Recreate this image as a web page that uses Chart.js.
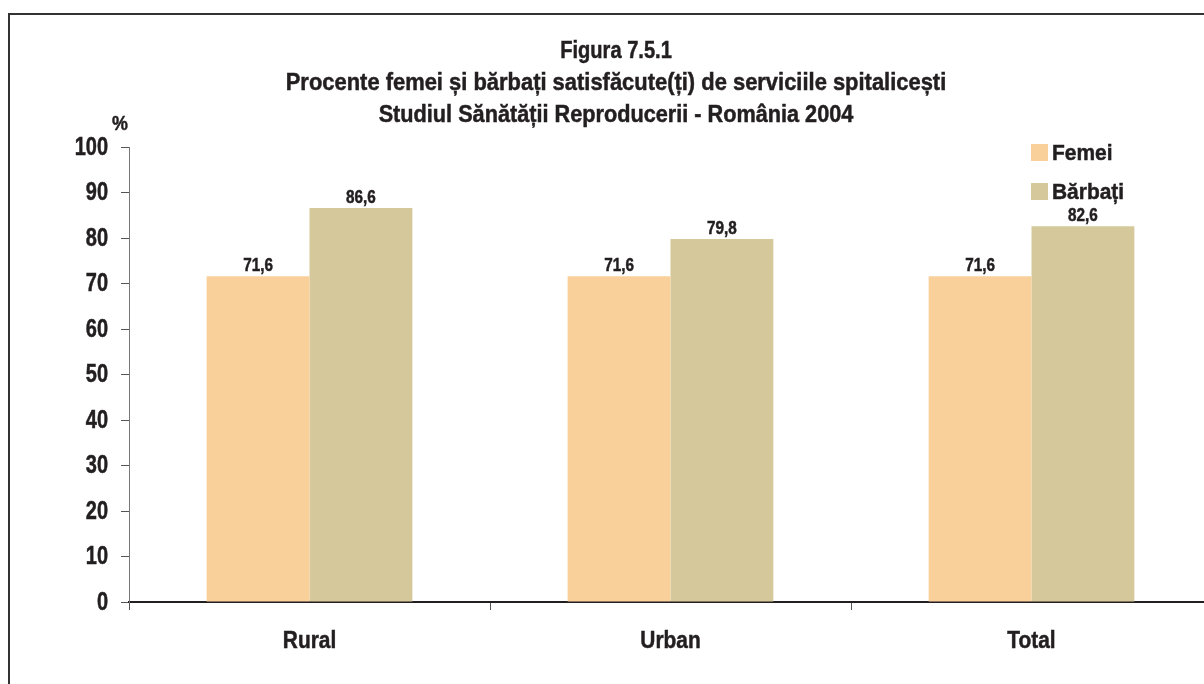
<!DOCTYPE html>
<html>
<head>
<meta charset="utf-8">
<script src="https://cdn.jsdelivr.net/npm/chart.js@4"></script>
<style>
  html, body { margin: 0; padding: 0; background: #fff; overflow: hidden; }
  #frame { position: absolute; left: 8px; top: 13px; width: 1300px; height: 800px;
           border-left: 2px solid #333; border-top: 2px solid #333; }
  #wrap { position: absolute; left: 0; top: 0; width: 1230px; height: 684px; }
</style>
</head>
<body>
<div id="frame"></div>
<div id="wrap"><canvas id="grafic"></canvas></div>
<script>
// date
const categorii = ['Rural', 'Urban', 'Total'];
const femei = [71.6, 71.6, 71.6];
const barbati = [86.6, 79.8, 82.6];
const etichetaY = [0, 10, 20, 30, 40, 50, 60, 70, 80, 90, 100];
const titlu = [
  'Figura 7.5.1',
  'Procente femei și bărbați satisfăcute(ți) de serviciile spitalicești',
  'Studiul Sănătății Reproducerii - România 2004'
];

const FONT = '"Liberation Sans", Arial, sans-serif';
const CULOARE = '#231f20';

// text ingust (condensat) - fontul din original e un Helvetica Condensed
function scrie(ctx, s, x, y, size, sx, align) {
  ctx.save();
  ctx.translate(x, y);
  ctx.scale(sx, 1);
  ctx.font = 'bold ' + size + 'px ' + FONT;
  ctx.textAlign = align;
  ctx.textBaseline = 'middle';
  ctx.fillStyle = CULOARE;
  ctx.strokeStyle = CULOARE;
  ctx.lineWidth = 0.5;
  ctx.fillText(s, 0, 0);
  ctx.strokeText(s, 0, 0);
  ctx.restore();
}

const decor = {
  id: 'decor',
  afterDraw(chart) {
    const ctx = chart.ctx;
    // titlu
    scrie(ctx, titlu[0], 616, 51, 24.5, 0.82, 'center');
    scrie(ctx, titlu[1], 616, 83, 24.5, 0.895, 'center');
    scrie(ctx, titlu[2], 616, 115, 24.5, 0.885, 'center');
    scrie(ctx, '%', 120, 124, 21, 0.85, 'center');

    // etichete axe
    const sy = chart.scales.y, sxl = chart.scales.x;
    etichetaY.forEach(v => scrie(ctx, String(v), 108, sy.getPixelForValue(v) + 1, 25, 0.8, 'right'));
    categorii.forEach((c, i) => scrie(ctx, c, sxl.getPixelForValue(i), 641, 24, 0.87, 'center'));

    // legenda
    chart.data.datasets.forEach((ds, i) => {
      const y = 153 + i * 39;
      ctx.fillStyle = ds.backgroundColor;
      ctx.fillRect(1031, y - 9, 17, 17);
      scrie(ctx, ds.label, 1052, y + 1, 22.5, 0.93, 'left');
    });
  },
  afterDatasetsDraw(chart) {
    const ctx = chart.ctx;
    chart.data.datasets.forEach((ds, i) => {
      chart.getDatasetMeta(i).data.forEach((bar, j) => {
        scrie(ctx, String(ds.data[j]).replace('.', ','), bar.x, bar.y - 10, 18, 0.85, 'center');
      });
    });
  }
};

const ctx = document.getElementById('grafic').getContext('2d');
new Chart(ctx, {
  type: 'bar',
  data: {
    labels: categorii,
    datasets: [
      { label: 'Femei', data: femei, backgroundColor: '#f9cf9a',
        categoryPercentage: 0.57, barPercentage: 1.0 },
      { label: 'Bărbați', data: barbati, backgroundColor: '#d5c99c',
        categoryPercentage: 0.57, barPercentage: 1.0 }
    ]
  },
  options: {
    responsive: true,
    maintainAspectRatio: false,
    animation: false,
    layout: { padding: { top: 147, right: 18, bottom: 0, left: 0 } },
    scales: {
      x: {
        grid: { display: true, drawOnChartArea: false, offset: true,
                tickLength: 8, color: '#555' },
        border: { color: '#231f20', width: 2 },
        ticks: { display: false },
        afterFit(scale) { scale.height = 82; }
      },
      y: {
        min: 0, max: 100,
        afterBuildTicks(scale) { scale.ticks = etichetaY.map(v => ({ value: v })); },
        grid: { display: true, drawOnChartArea: false, tickLength: 8, color: '#555' },
        border: { color: '#777', width: 1 },
        ticks: { display: false },
        afterFit(scale) { scale.width = 129; }
      }
    },
    plugins: {
      legend: { display: false },
      tooltip: { enabled: false }
    }
  },
  plugins: [decor]
});
</script>
</body>
</html>
